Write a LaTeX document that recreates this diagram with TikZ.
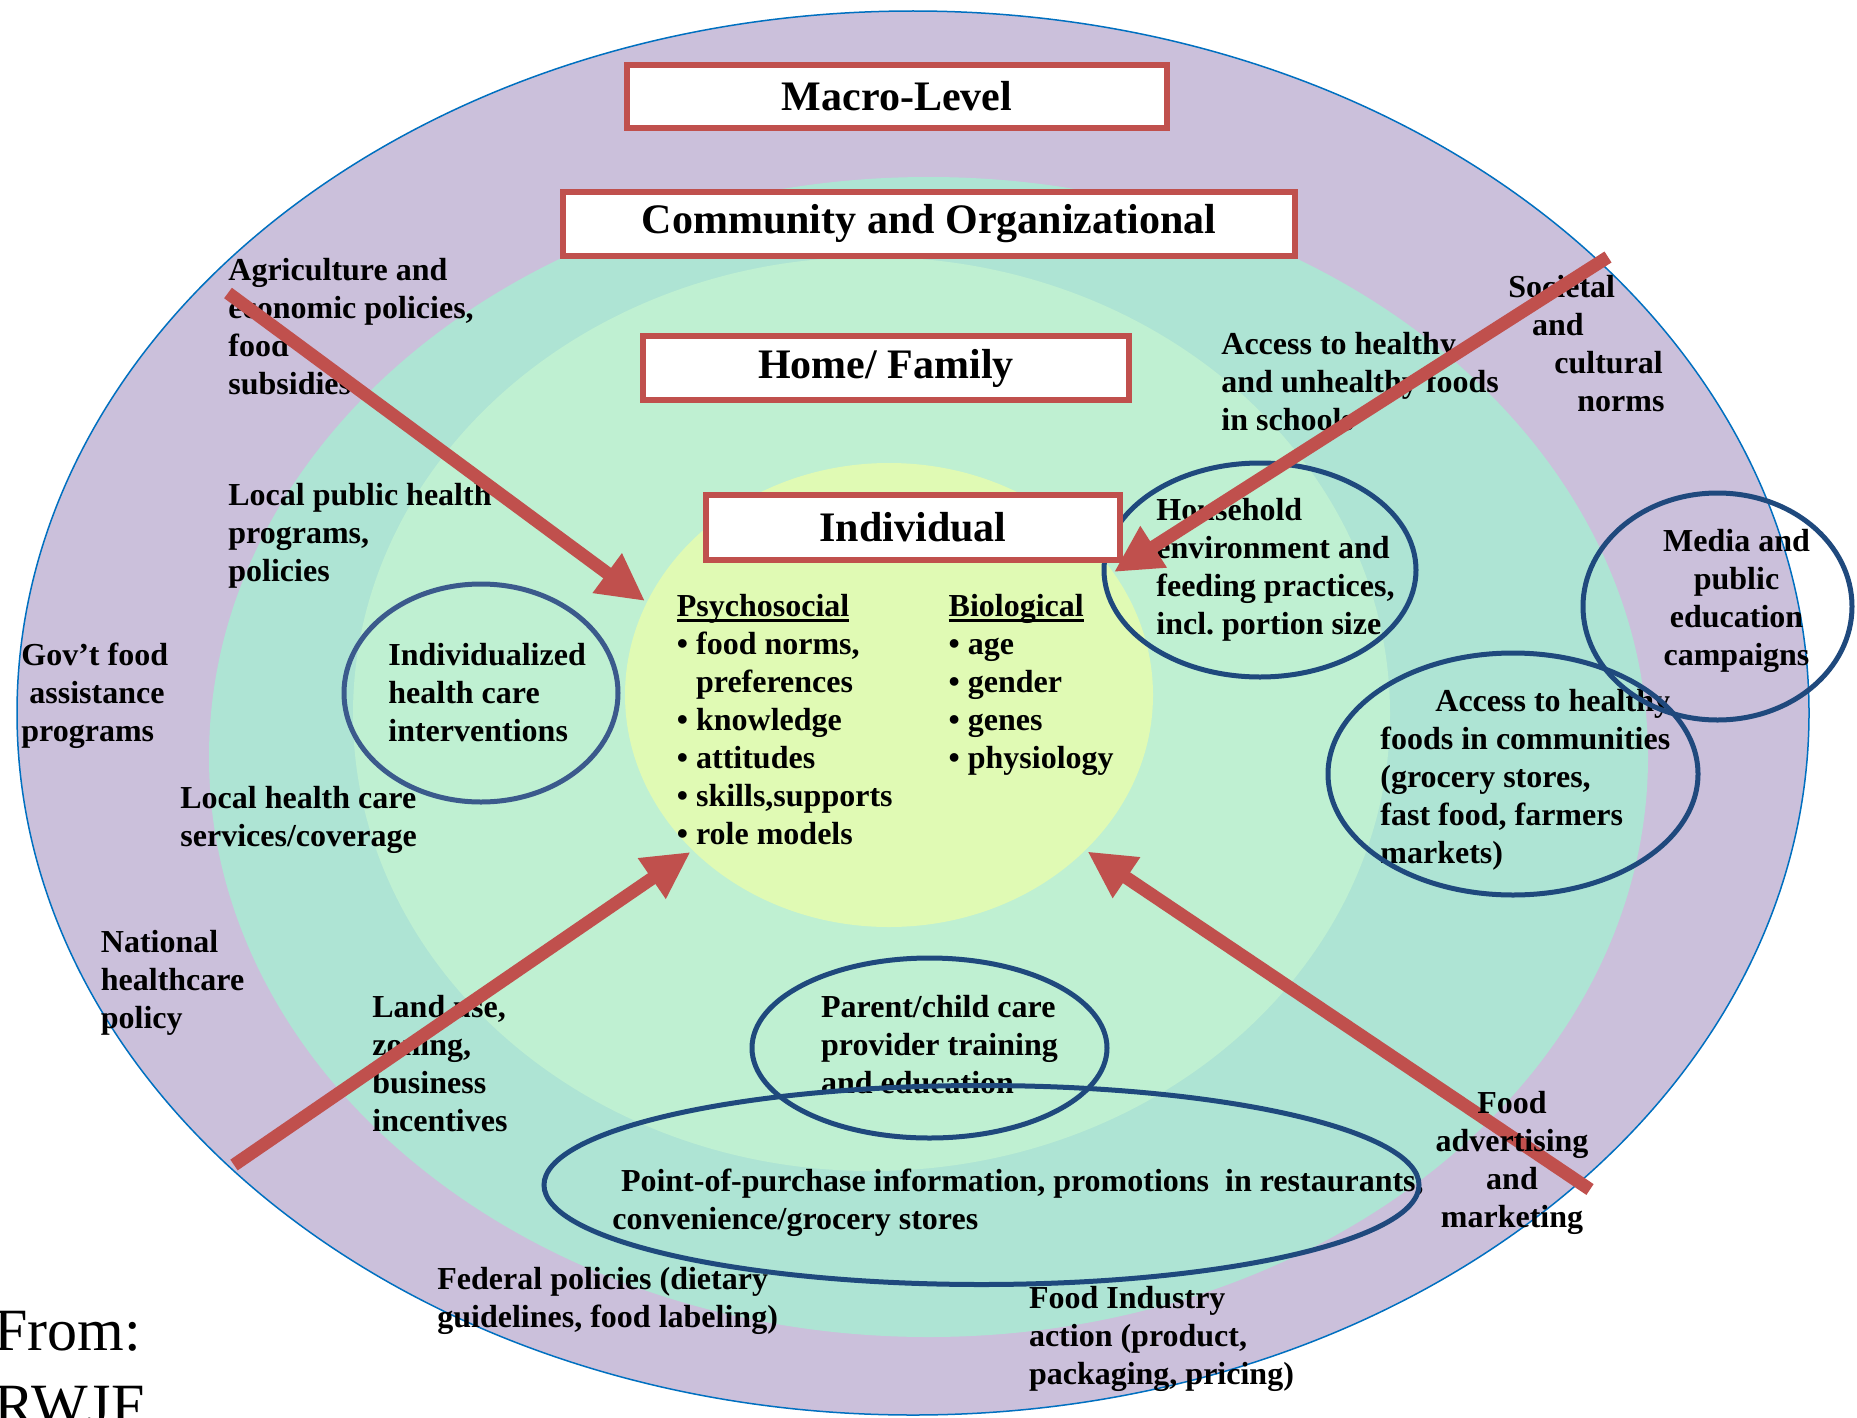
\documentclass[tikz,border=0pt]{standalone}
\usepackage{fontspec}
\setmainfont{Liberation Serif}
\usetikzlibrary{arrows.meta}
\frenchspacing
\definecolor{ringA}{RGB}{203,192,219}
\definecolor{ringB}{RGB}{174,228,212}
\definecolor{ringC}{RGB}{191,240,210}
\definecolor{ringD}{RGB}{224,250,180}
\definecolor{boxred}{RGB}{192,80,77}
\definecolor{navy}{RGB}{31,73,125}
\definecolor{navyB}{RGB}{59,90,140}
\definecolor{rimblue}{RGB}{0,112,192}
\newcommand\myul[1]{\setbox0\hbox{#1}\rlap{\rule[-2.6pt]{\wd0}{1.1pt}}\box0}
\begin{document}
\begin{tikzpicture}[x=0.5pt,y=-0.5pt,
  lbl/.style={inner sep=0pt, font=\bfseries\fontsize{16}{19}\selectfont, align=left, anchor=base west},
  clbl/.style={inner sep=0pt, font=\bfseries\fontsize{16}{19}\selectfont, align=center, anchor=base},
  titlebox/.style={draw=boxred, line width=3pt, fill=white, inner sep=0pt, font=\bfseries\fontsize{21}{25}\selectfont},
  bubble/.style={draw=navy, line width=2.5pt},
  bigarrow/.style={draw=boxred, line width=6.5pt, -{Triangle[length=23.5pt,width=23pt]}}
]
\useasboundingbox (0,0) rectangle (1857,1418);
\clip (0,0) rectangle (1857,1418);
\fill[white] (0,0) rectangle (1857,1418);
% rings
\fill[ringA] (913,713) ellipse [x radius=896, y radius=702];
\draw[rimblue, line width=0.75pt] (913,713) ellipse [x radius=896, y radius=702];
\fill[ringB] (928.5,757) ellipse [x radius=719.5, y radius=580];
\fill[ringC] (871.5,714) ellipse [x radius=518.5, y radius=457];
\fill[ringD] (889,695) ellipse [x radius=264, y radius=232];
% texts (anchor = baseline of the last line)
\node[lbl] (agri) at (228,394) {Agriculture and\\economic policies,\\food\\subsidies};
\node[lbl] (lph) at (228,581) {Local public health\\programs,\\policies};
\node[lbl] (gov) at (21,741) {Gov’t food\\\hspace{4pt}assistance\\programs};
\node[lbl] (indiv) at (388,741) {Individualized\\health care\\interventions};
\node[lbl] (lhc) at (180,846) {Local health care\\services/coverage};
\node[lbl] (nat) at (100.5,1028) {National\\healthcare\\policy};
\node[lbl] (land) at (372,1131) {Land use,\\zoning,\\business\\incentives};
\node[lbl] (parent) at (820.7,1093) {Parent/child care\\provider training\\and education};
\node[lbl] (pop) at (612,1229) {\hspace{4.3pt}Point-of-purchase information, promotions\ \ in restaurants,\\convenience/grocery stores};
\node[lbl] (fed) at (437,1327.5) {Federal policies (dietary\\guidelines, food labeling)};
\node[lbl] (fi) at (1028.6,1384.5) {Food Industry\\action (product,\\packaging, pricing)};
\node[lbl] (acc) at (1380,863.7) {\hspace{27.5pt}Access to healthy\\foods in communities\\(grocery stores,\\fast food, farmers\\markets)};
\node[clbl] (media) at (1736.5,665.7) {Media and\\public\\education\\campaigns};
\node[lbl] (house) at (1156,634) {Household\\environment and\\feeding practices,\\incl. portion size};
\node[lbl] (school) at (1221,430) {Access to healthy\\and unhealthy foods\\in schools};
\node[lbl] (soc) at (1508,411.3) {Societal\\\hspace{11.8pt}and\\\hspace{23pt}cultural\\\hspace{34.5pt}norms};
\node[lbl] (psy) at (676.5,844.3) {\myul{Psychosocial}\\• food norms,\\\hphantom{• }preferences\\• knowledge\\• attitudes\\• skills,supports\\• role models};
\node[lbl] (bio) at (948.3,768.3) {\myul{Biological}\\• age\\• gender\\• genes\\• physiology};
\node[inner sep=0pt, align=left, anchor=base west, font=\fontsize{30}{37.4}\selectfont] (from) at (-6,1425.4) {From:\\RWJF};
% blue ellipses
\draw[bubble, draw=navyB] (481,693) ellipse [x radius=137, y radius=109];
\draw[bubble] (1260,570) ellipse [x radius=156, y radius=107];
\draw[bubble] (1717.5,606.5) ellipse [x radius=134.5, y radius=113.5];
\draw[bubble] (1513,774) ellipse [x radius=185, y radius=121];
\draw[bubble] (929.5,1048) ellipse [x radius=177.5, y radius=90];
\draw[bubble] (981.5,1185) ellipse [x radius=437.5, y radius=99.5];
% title boxes
\node[titlebox, minimum width=270pt, minimum height=31.5pt] (macro) at (897,96.5) {Macro-Level};
\node[titlebox, minimum width=366pt, minimum height=32pt] (comm) at (929,224) {Community and Organizational};
\node[titlebox, minimum width=243pt, minimum height=32pt] (home) at (886,368) {Home/ Family};
\node[titlebox, minimum width=207pt, minimum height=32.5pt] (ind) at (913,527.5) {Individual};
% arrows
\coordinate (a1s) at (228,293);
\coordinate (a1e) at (645,601);
\coordinate (a2s) at (1608,257);
\coordinate (a2e) at (1114,572);
\coordinate (a3s) at (234,1165);
\coordinate (a3e) at (690.5,852);
\coordinate (a4s) at (1590,1189.5);
\coordinate (a4e) at (1087.5,851.5);
\draw[bigarrow] (a1s) -- (a1e);
\draw[bigarrow] (a2s) -- (a2e);
\draw[bigarrow] (a3s) -- (a3e);
\draw[bigarrow] (a4s) -- (a4e);
\node[clbl] (fad) at (1512,1227) {Food\\advertising\\and\\marketing};
\end{tikzpicture}
\end{document}
